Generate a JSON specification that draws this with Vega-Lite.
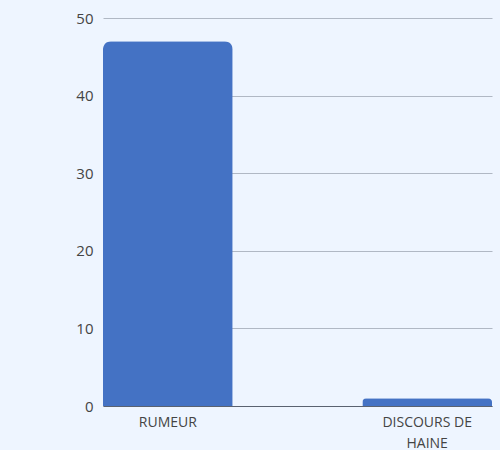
{
  "$schema": "https://vega.github.io/schema/vega-lite/v6.json",
  "autosize": {"type": "none"},
  "width": 389,
  "height": 388,
  "padding": {"left": 103, "top": 18, "right": 8, "bottom": 44},
  "background": "#eef5ff",
  "config": {"view": {"stroke": null}, "font": "Open Sans"},
  "data": {"values": [
    {"categorie": "RUMEUR", "valeur": 47},
    {"categorie": "DISCOURS DE HAINE", "valeur": 1}
  ]},
  "mark": {"type": "bar", "color": "#4472c4", "cornerRadiusTopLeft": 8, "cornerRadiusTopRight": 8},
  "encoding": {
    "x": {
      "field": "categorie", "type": "nominal", "sort": null,
      "scale": {"paddingInner": 0.5, "paddingOuter": 0},
      "axis": {
        "title": null, "labelAngle": 0, "ticks": false, "domainColor": "#5a6270",
        "labelColor": "#444444", "labelFontSize": 14, "labelPadding": 9, "labelLineHeight": 21,
        "labelExpr": "datum.label == 'DISCOURS DE HAINE' ? ['DISCOURS DE', 'HAINE'] : datum.label"
      }
    },
    "y": {
      "field": "valeur", "type": "quantitative",
      "scale": {"domain": [0, 50]},
      "axis": {
        "title": null, "values": [0, 10, 20, 30, 40, 50], "domain": false, "ticks": false,
        "gridColor": "#b0b8c4", "gridOpacity": 1, "labelColor": "#444444", "labelFontSize": 15, "labelPadding": 10
      }
    }
  }
}
